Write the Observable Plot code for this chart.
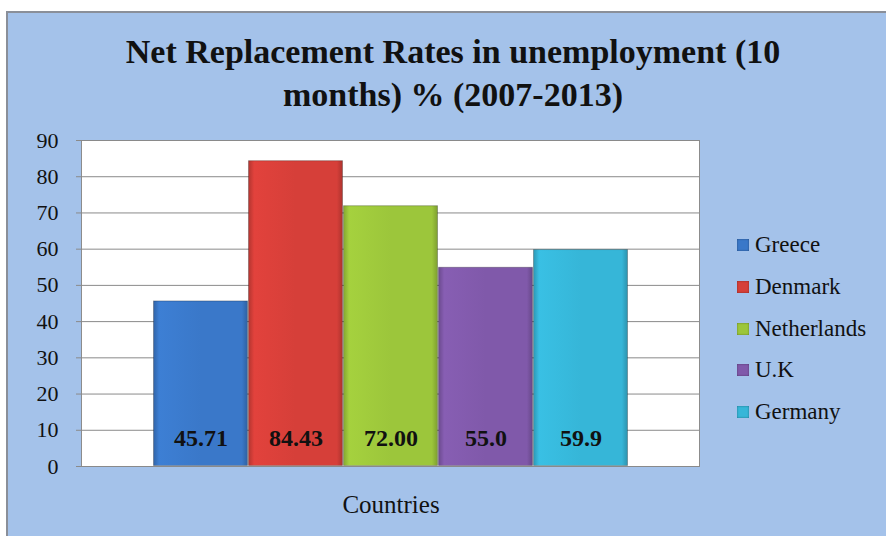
<!DOCTYPE html>
<html>
<head>
<meta charset="utf-8">
<script src="https://cdn.jsdelivr.net/npm/d3@7"></script>
<script src="https://cdn.jsdelivr.net/npm/@observablehq/plot@0.6"></script>
<style>
  html, body { margin: 0; padding: 0; background: #ffffff; }
  #wrap { position: relative; width: 886px; height: 536px; overflow: hidden; font-family: "Times New Roman", "Liberation Serif", "DejaVu Serif", serif; }
  #panel { position: absolute; left: 6px; top: 11px; width: 880px; height: 525px; background: #a4c2ea; border-left: 2px solid #8a8f99; border-top: 2px solid #8a8f99; box-sizing: border-box; }
  #title { position: absolute; left: 0; width: 906px; text-align: center; font-weight: bold; font-size: 34px; color: #111; line-height: 43px; top: 30px; }
  #chart { position: absolute; left: 0; top: 0; }
  .leg { position: absolute; left: 737px; font-size: 23px; color: #111; white-space: nowrap; }
  .leg span.sw { display: inline-block; width: 12px; height: 12px; margin-right: 6px; vertical-align: 1px; box-shadow: inset 0 0 2px rgba(0,0,0,0.45); }
</style>
</head>
<body>
<div id="wrap">
  <div id="panel"></div>
  <div id="chart"></div>
  <div id="title"></div>
  <div id="legend"></div>
</div>
<script>
const titleLines = ["Net Replacement Rates in unemployment (10", "months) % (2007-2013)"];
const countries = ["Greece", "Denmark", "Netherlands", "U.K", "Germany"];
const values = [45.71, 84.43, 72.00, 55.0, 59.9];
const valueLabels = ["45.71", "84.43", "72.00", "55.0", "59.9"];
const colors = ["#3a78c9", "#d63f39", "#9cc63b", "#8059aa", "#36b6d8"];
const yTicks = [0, 10, 20, 30, 40, 50, 60, 70, 80, 90];
const xTitle = "Countries";

document.getElementById("title").innerHTML = titleLines.join("<br>");

const data = countries.map((c, i) => ({country: c, value: values[i], label: valueLabels[i], grad: `url(#g${i})`}));

const serif = "'Times New Roman', 'Liberation Serif', 'DejaVu Serif', serif";
const chart = Plot.plot({
  width: 886,
  height: 536,
  marginLeft: 81,
  marginRight: 187,
  marginTop: 140,
  marginBottom: 70,
  style: {background: "transparent", fontFamily: serif, color: "#111"},
  x: {domain: countries, paddingInner: 0, paddingOuter: 0.745, axis: null},
  y: {domain: [0, 90], ticks: yTicks, label: null},
  color: {type: "identity"},
  marks: [
    Plot.frame({fill: "white", stroke: "#8c8c8c", strokeWidth: 1}),
    Plot.gridY(yTicks, {stroke: "#8a8a8a", strokeOpacity: 1, strokeWidth: 1}),
    Plot.axisY({ticks: yTicks, tickSize: 5, tickPadding: 18, fontSize: 22, label: null, stroke: "#8a8a8a"}),
    Plot.barY(data, {x: "country", y: "value", fill: "grad", inset: 0.5, stroke: "rgba(0,0,0,0.25)", strokeWidth: 1}),
    Plot.text(data, {x: "country", y: () => 0, dy: -21, text: "label", fontSize: 24, fontWeight: "bold", fill: "#111", lineAnchor: "bottom"}),
    Plot.text([xTitle], {frameAnchor: "bottom", x: () => countries[2], dy: 46, text: d => d, fontSize: 25, fill: "#111"})
  ]
});

// gradient defs for the bevelled bar look
const ns = "http://www.w3.org/2000/svg";
const defs = document.createElementNS(ns, "defs");
colors.forEach((c, i) => {
  const base = d3.color(c);
  const g = document.createElementNS(ns, "linearGradient");
  g.setAttribute("id", `g${i}`);
  g.setAttribute("x1", "0"); g.setAttribute("x2", "1"); g.setAttribute("y1", "0"); g.setAttribute("y2", "0");
  const stops = [[0, base.darker(0.5)], [0.06, base.brighter(0.15)], [0.5, base], [0.94, base], [1, base.darker(0.6)]];
  stops.forEach(([o, col]) => {
    const s = document.createElementNS(ns, "stop");
    s.setAttribute("offset", o);
    s.setAttribute("stop-color", col.formatHex());
    g.appendChild(s);
  });
  defs.appendChild(g);
});
chart.insertBefore(defs, chart.firstChild);
document.getElementById("chart").appendChild(chart);

// legend
const legendTops = [232, 274, 316, 357, 399];
const legend = document.getElementById("legend");
countries.forEach((c, i) => {
  const d = document.createElement("div");
  d.className = "leg";
  d.style.top = legendTops[i] + "px";
  d.innerHTML = `<span class="sw" style="background:${colors[i]}"></span>${c}`;
  legend.appendChild(d);
});
</script>
</body>
</html>
